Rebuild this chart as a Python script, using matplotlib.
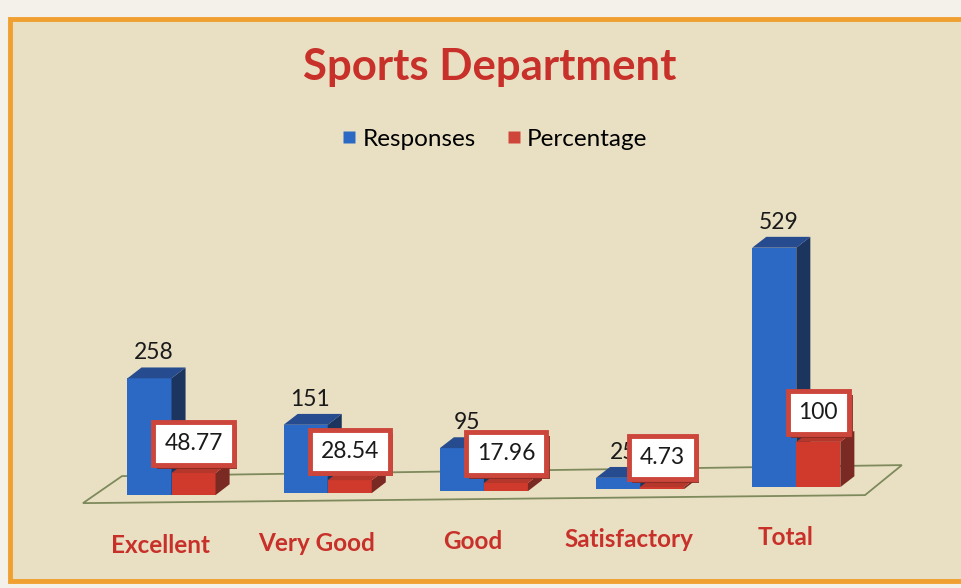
import matplotlib
matplotlib.use('Agg')
import matplotlib.pyplot as plt
from matplotlib.patches import Polygon, Rectangle
from matplotlib.lines import Line2D
import matplotlib.patheffects as pe

# ---------------- data ----------------
categories = ['Excellent', 'Very Good', 'Good', 'Satisfactory', 'Total']
responses = [258, 151, 95, 25, 529]
percentage = [48.77, 28.54, 17.96, 4.73, 100]
pct_labels = ['48.77', '28.54', '17.96', '4.73', '100']
series_names = ['Responses', 'Percentage']
title = 'Sports Department'

# ---------------- style ----------------
plt.rcParams['font.family'] = ['Lato', 'DejaVu Sans']
BG_OUT = '#F3F1EA'
BG_PANEL = '#E9E0C4'
ORANGE = '#F0A030'
TITLE_RED = '#C8302A'
BLUE_FRONT, BLUE_SIDE, BLUE_TOP = '#2C69C4', '#1C355F', '#264B8E'
RED_FRONT, RED_SIDE, RED_TOP = '#D03A2C', '#7A2A22', '#B5362B'
BOX_EDGE = '#CC463C'
FLOOR_LINE = '#7E8A5C'

W, H = 962, 588
fig = plt.figure(figsize=(W / 100, H / 100), dpi=100)
fig.patch.set_facecolor(BG_OUT)

ax = fig.add_axes([0, 0, 1, 1])
ax.set_facecolor('none')
ax.axis('off')

# background panel with orange frame (left, top, bottom edges only), drawn in axes-fraction coords
left_x, top_y, bot_y = 10 / W, 1 - 19 / H, 1 - 581 / H
ax.add_patch(Rectangle((left_x, bot_y), 1 - left_x, top_y - bot_y,
                       transform=ax.transAxes, facecolor=BG_PANEL,
                       edgecolor='none', zorder=-5, clip_on=False))
ax.add_line(Line2D([1.0, left_x, left_x, 1.0], [top_y, top_y, bot_y, bot_y],
                   transform=ax.transAxes, color=ORANGE, linewidth=3.5,
                   solid_joinstyle='miter', solid_capstyle='butt',
                   zorder=-4, clip_on=False))

ax.set_xlim(-1.098, 5.061)
ax.set_ylim(-214, 1085)

n = len(categories)
w = 0.282          # bar width (x units)
dx, dy = 0.09, 24  # 3D depth offsets
tilt = 4.4         # perspective tilt of the floor

bases = [tilt * (i - (n - 1) / 2) for i in range(n)]

# floor
floor = Polygon([(-0.567, -26.5), (n - 1 + 0.44, -8.8),
                 (n - 1 + 0.676, 57.5), (-0.317, 33.2)],
                closed=True, facecolor='none', edgecolor=FLOOR_LINE,
                linewidth=1.3, zorder=1)
ax.add_patch(floor)


def bar3d(x0, base, height, front, side, top, z):
    x1 = x0 + w
    ax.bar(x0, height, width=w, bottom=base, align='edge', color=front,
           linewidth=0, zorder=z)
    t = base + height
    ax.add_patch(Polygon([(x1, base), (x1, t), (x1 + dx, t + dy), (x1 + dx, base + dy)],
                         closed=True, facecolor=side, edgecolor='none', zorder=z))
    ax.add_patch(Polygon([(x0, t), (x1, t), (x1 + dx, t + dy), (x0 + dx, t + dy)],
                         closed=True, facecolor=top, edgecolor='none', zorder=z))


for i in range(n):
    b = bases[i]
    bar3d(i - w, b, responses[i], BLUE_FRONT, BLUE_SIDE, BLUE_TOP, 2)
    bar3d(i, b, percentage[i], RED_FRONT, RED_SIDE, RED_TOP, 3)

    ax.annotate(str(responses[i]), xy=(i - w / 2 + dx / 3, b + responses[i] + dy),
                xytext=(0, 3), textcoords='offset points', ha='center', va='bottom',
                fontsize=16.5, color='#1a1a1a', zorder=5)

    t = ax.annotate(pct_labels[i], xy=(i + w / 2, b + percentage[i]),
                    xytext=(0, 21), textcoords='offset points', ha='center',
                    va='center', fontsize=16.5, color='#1a1a1a', zorder=6,
                    bbox=dict(boxstyle='square,pad=0.48', facecolor='white',
                              edgecolor=BOX_EDGE, linewidth=3.5))
    t.get_bbox_patch().set_path_effects([
        pe.SimplePatchShadow(offset=(2.5, -2.5), shadow_rgbFace='#8A2A22', alpha=0.9),
        pe.Normal()])

    ax.annotate(categories[i], xy=(i, b), xytext=(-8, -36), textcoords='offset points',
                ha='center', va='center', fontsize=17.5, fontweight='bold',
                color=TITLE_RED, zorder=5)

fig.text(490 / W, 1 - 67 / H, title, ha='center', va='center', fontsize=31.5,
         fontweight='bold', color=TITLE_RED)

handles = [Line2D([], [], marker='s', linestyle='none', markersize=9,
                  markerfacecolor=BLUE_FRONT, markeredgecolor='none'),
           Line2D([], [], marker='s', linestyle='none', markersize=9,
                  markerfacecolor='#D0453A', markeredgecolor='none')]
fig.legend(handles, series_names, loc='center', bbox_to_anchor=(494 / W, 1 - 139 / H),
           ncol=2, frameon=False, fontsize=17.5, handletextpad=0.2,
           columnspacing=1.2, handlelength=0.7)

fig.savefig('out.png', dpi=100, facecolor=fig.get_facecolor())
